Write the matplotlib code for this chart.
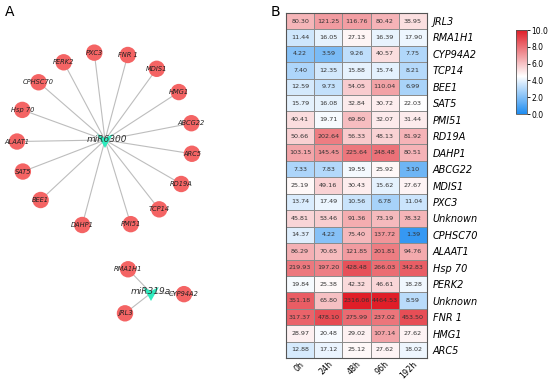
import numpy as np
import matplotlib
matplotlib.use("Agg")
import matplotlib.pyplot as plt
from matplotlib.colors import LinearSegmentedColormap
from matplotlib.patches import Circle, Polygon

# heatmap data (expression values)
genes = ["JRL3", "RMA1H1", "CYP94A2", "TCP14", "BEE1", "SAT5", "PMI51", "RD19A",
         "DAHP1", "ABCG22", "MDIS1", "PXC3", "Unknown", "CPHSC70", "ALAAT1",
         "Hsp 70", "PERK2", "Unknown", "FNR 1", "HMG1", "ARC5"]
times = ["0h", "24h", "48h", "96h", "192h"]
values = [
    [80.30, 121.25, 116.76, 80.42, 38.95],
    [11.44, 16.05, 27.13, 16.39, 17.90],
    [4.22, 3.59, 9.26, 40.57, 7.75],
    [7.40, 12.35, 15.88, 15.74, 8.21],
    [12.59, 9.73, 54.05, 110.04, 6.99],
    [15.79, 16.08, 32.84, 30.72, 22.03],
    [40.41, 19.71, 69.80, 32.07, 31.44],
    [50.66, 202.64, 56.33, 48.13, 81.92],
    [103.15, 145.45, 225.64, 248.48, 80.51],
    [7.33, 7.83, 19.55, 25.92, 3.10],
    [25.19, 49.16, 30.43, 15.62, 27.67],
    [13.74, 17.49, 10.56, 6.78, 11.04],
    [45.81, 53.46, 91.36, 73.19, 78.32],
    [14.37, 4.22, 75.40, 137.72, 1.39],
    [86.29, 70.65, 121.85, 201.81, 94.76],
    [219.93, 197.20, 428.48, 266.03, 342.83],
    [19.84, 25.38, 42.32, 46.61, 18.28],
    [351.18, 65.80, 2316.06, 4464.53, 8.59],
    [317.37, 478.10, 275.99, 237.02, 453.50],
    [28.97, 20.48, 29.02, 107.14, 27.62],
    [12.88, 17.12, 25.12, 27.62, 18.02],
]

# network data
mir1 = "miR6300"
mir1_targets = ["ABCG22", "HMG1", "MDIS1", "FNR 1", "PXC3", "PERK2", "CPHSC70",
                "Hsp 70", "ALAAT1", "SAT5", "BEE1", "DAHP1", "PMI51", "TCP14",
                "RD19A", "ARC5"]
mir2 = "miR319a"
mir2_targets = ["RMA1H1", "CYP94A2", "JRL3"]

# layout (pixel space of panel A)
mir1_xy = (105, 140)
mir1_ang = [11, 33, 54, 75, 97, 118, 139, 160, 181, 201, 223, 255, 287, 308, 330, 351]
mir1_r = 88
mir2_xy = (151, 293)
mir2_ang = [134, -2, 218]
mir2_r = 33

node_col = "#F46464"
tri_col = "#2EEBBE"
edge_col = "#BDBDBD"

fig = plt.figure(figsize=(5.5, 3.8), dpi=100)

# ---------------- panel A: network ----------------
axn = fig.add_axes([0, 0, 270 / 550, 1])
axn.set_xlim(0, 270)
axn.set_ylim(380, 0)
axn.axis("off")


def draw_star(ax, cxy, targets, angles, r):
    cx, cy = cxy
    for name, a in zip(targets, angles):
        x = cx + r * np.cos(np.radians(a))
        y = cy - r * np.sin(np.radians(a))
        ax.plot([cx, x], [cy, y], color=edge_col, lw=0.8, zorder=1)
        ax.add_patch(Circle((x, y), 8.2, color=node_col, zorder=2, lw=0))
        ax.text(x, y, name, fontsize=4.8, style="italic", color="#222222",
                ha="center", va="center", zorder=3)


def draw_mir(ax, cxy, name, dx=2):
    cx, cy = cxy
    tri = Polygon([(cx - 8, cy - 6), (cx, cy - 2), (cx + 8, cy - 6), (cx, cy + 8)],
                  closed=True, color=tri_col, zorder=4, lw=0)
    ax.add_patch(tri)
    ax.text(cx + dx, cy - 1, name, fontsize=6.5, style="italic", color="#333333",
            ha="center", va="center", zorder=5)


draw_star(axn, mir1_xy, mir1_targets, mir1_ang, mir1_r)
draw_mir(axn, mir1_xy, mir1)
draw_star(axn, mir2_xy, mir2_targets, mir2_ang, mir2_r)
draw_mir(axn, mir2_xy, mir2, dx=0)

fig.text(5 / 550, 1 - 12 / 380, "A", fontsize=10, va="center", ha="left")
fig.text(271 / 550, 1 - 12 / 380, "B", fontsize=10, va="center", ha="left")

# ---------------- panel B: heatmap ----------------
cmap = LinearSegmentedColormap.from_list(
    "bwr2", [(0, "#1E8CF0"), (0.45, "#FFFFFF"), (1, "#E01E28")])
vals = np.array(values)
logv = np.log2(vals)

top, bot = 12.8, 358.2
left, right = 286, 427
axh = fig.add_axes([left / 550, 1 - bot / 380, (right - left) / 550, (bot - top) / 380])
mesh = axh.pcolormesh(logv, cmap=cmap, vmin=0, vmax=10,
                      edgecolors="#8C8C8C", linewidth=0.6)
axh.set_xlim(0, len(times))
axh.set_ylim(len(genes), 0)
for i in range(len(genes)):
    for j in range(len(times)):
        axh.text(j + 0.5, i + 0.5, "%.2f" % vals[i, j], ha="center", va="center",
                 fontsize=4.6, color="#333333")
axh.set_yticks(np.arange(len(genes)) + 0.5)
axh.set_yticklabels(genes, fontsize=7, style="italic")
axh.yaxis.tick_right()
axh.tick_params(axis="y", length=0, pad=4)
axh.set_xticks(np.arange(len(times)) + 0.5)
axh.set_xticklabels(times, fontsize=5.8, rotation=45, ha="right", rotation_mode="anchor")
axh.tick_params(axis="x", length=0, pad=1)
for s in axh.spines.values():
    s.set_color("#555555")
    s.set_linewidth(0.8)

# colorbar
cax = fig.add_axes([516 / 550, 1 - 114 / 380, 11 / 550, 84 / 380])
cb = fig.colorbar(mesh, cax=cax, ticks=[0, 2, 4, 6, 8, 10])
cb.ax.set_yticklabels(["%.1f" % t for t in [0, 2, 4, 6, 8, 10]], fontsize=5.5)
cb.ax.tick_params(length=2, width=0.6, pad=1)
cb.outline.set_linewidth(0.6)
cb.outline.set_edgecolor("#555555")

fig.savefig("out.png", dpi=100)
